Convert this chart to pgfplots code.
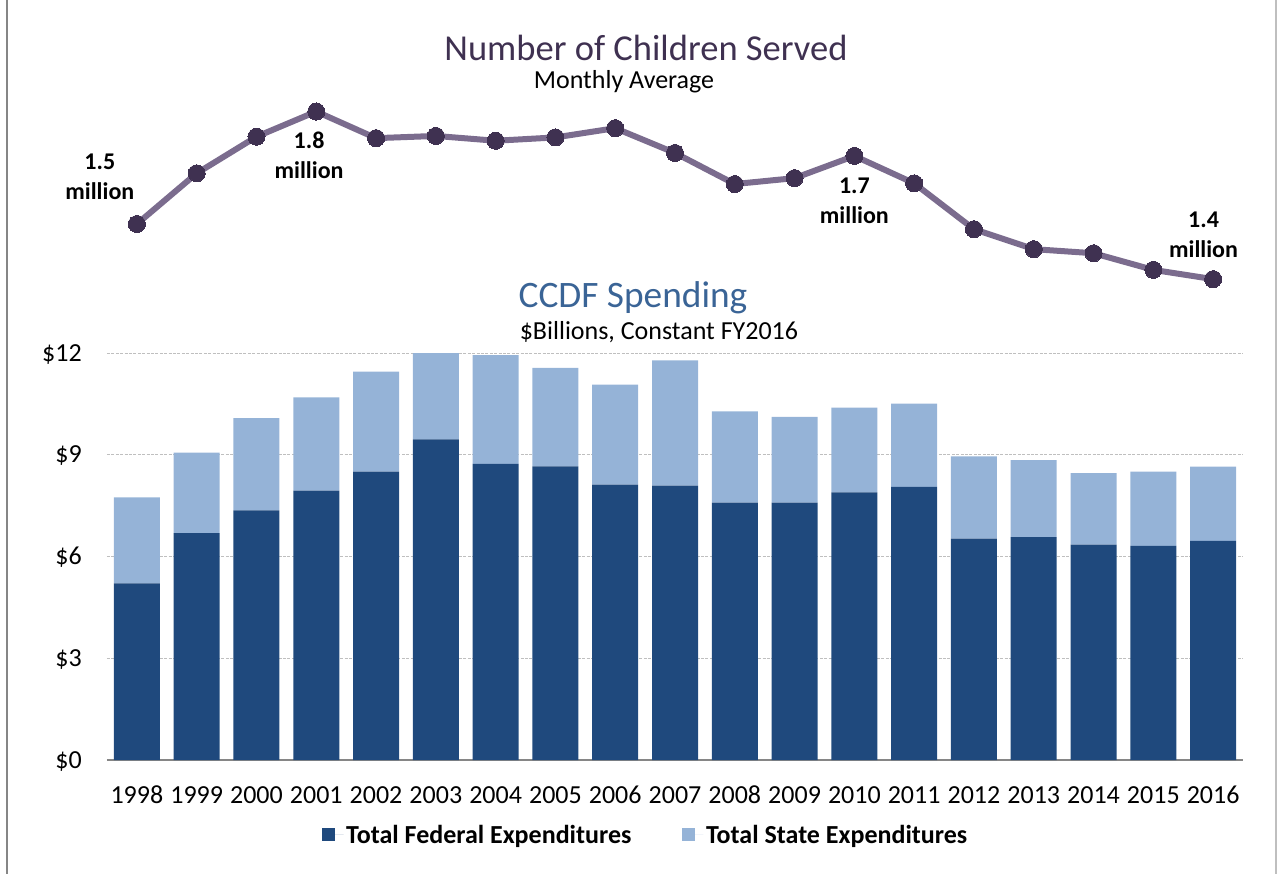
\documentclass[border=0pt]{standalone}
\usepackage{pgfplots}
\pgfplotsset{compat=1.18}
\usepackage{fontspec}
\setmainfont{Carlito}
\definecolor{fed}{HTML}{1F497D}
\definecolor{state}{HTML}{95B3D7}
\definecolor{linec}{HTML}{7B6C8E}
\definecolor{markc}{HTML}{3F3151}
\definecolor{titlep}{HTML}{3F3151}
\definecolor{titleb}{HTML}{3A6496}
\definecolor{gridc}{HTML}{BFBFBF}
\definecolor{basec}{HTML}{868686}
\begin{document}
\begin{tikzpicture}
\useasboundingbox (0,0) rectangle (960.75pt,-655.5pt);
% frame lines
\draw[color=basec, line width=1.5pt] (5.25pt,0pt) -- (5.25pt,-655.5pt);
\draw[color=gridc, line width=0.9pt] (957pt,0pt) -- (957pt,-655.5pt);
% titles
\node[anchor=base, text=titlep, inner sep=0pt, font=\fontsize{27.4}{32}\selectfont] at (0.75pt*646,-0.75pt*60.5) {Number of Children Served};
\node[anchor=base, inner sep=0pt, font=\fontsize{19.5}{23}\selectfont] at (0.75pt*624,-0.75pt*89) {Monthly Average};
\node[anchor=base, text=titleb, inner sep=0pt, font=\fontsize{28}{32}\selectfont] at (0.75pt*633,-0.75pt*307) {CCDF Spending};
\node[anchor=base, inner sep=0pt, font=\fontsize{19.5}{23}\selectfont] at (0.75pt*659,-0.75pt*339) {\$Billions, Constant FY2016};

% bar chart
\begin{axis}[
  at={(80.25pt,-570pt)}, anchor=south west,
  scale only axis, width=852pt, height=305.25pt,
  xmin=-0.5, xmax=18.5, ymin=0, ymax=12,
  ybar stacked, bar width=34.5pt,
  xtick={0,1,2,3,4,5,6,7,8,9,10,11,12,13,14,15,16,17,18},
  xticklabels={1998,1999,2000,2001,2002,2003,2004,2005,2006,2007,2008,2009,2010,2011,2012,2013,2014,2015,2016},
  ytick={0,3,6,9,12},
  yticklabels={\$0,\$3,\$6,\$9,\$12},
  major tick length=0pt,
  tick style={draw=none},
  ticklabel style={font=\fontsize{19.5}{23}\selectfont, inner sep=0pt},
  xticklabel style={anchor=base, yshift=-32.25pt},
  yticklabel style={anchor=base east, xshift=-18.75pt, yshift=-6pt},
  axis x line*=bottom, axis y line*=left,
  x axis line style={-, color=basec, line width=1.5pt},
  y axis line style={draw=none},
  ymajorgrids,
  major grid style={color=gridc, line width=0.75pt, dash pattern=on 2.2pt off 1.1pt},
  legend style={at={(0.4745,-0.184)}, anchor=center, draw=none, fill=none,
    legend columns=2, inner sep=0pt,
    font=\fontsize{19.5}{23}\selectfont\bfseries,
    /tikz/every even column/.append style={column sep=36pt}},
  legend image code/.code={\fill[#1] (0pt,-4.875pt) rectangle (9.75pt,4.875pt); \path (0pt,0pt) -- (16pt,0pt);},
]
\addplot[fill=fed, draw=none] coordinates {
(0,5.21) (1,6.69) (2,7.36) (3,7.94) (4,8.50) (5,9.45) (6,8.73) (7,8.66) (8,8.12) (9,8.09)
(10,7.59) (11,7.59) (12,7.89) (13,8.05) (14,6.53) (15,6.57) (16,6.35) (17,6.31) (18,6.46)};
\addlegendentry{Total Federal Expenditures}
\addplot[fill=state, draw=none] coordinates {
(0,2.53) (1,2.37) (2,2.72) (3,2.75) (4,2.95) (5,2.55) (6,3.21) (7,2.90) (8,2.95) (9,3.69)
(10,2.69) (11,2.53) (12,2.50) (13,2.46) (14,2.42) (15,2.27) (16,2.11) (17,2.19) (18,2.19)};
\addlegendentry{Total State Expenditures}
\end{axis}

% line chart
\begin{axis}[
  at={(80.25pt,-223.5pt)}, anchor=south west,
  scale only axis, width=852pt, height=152.625pt,
  xmin=-0.5, xmax=18.5, ymin=1.3, ymax=1.85,
  axis lines=none, ticks=none, clip=false,
]
\addplot[color=linec, line width=4.5pt, mark=*, mark size=6.4pt,
  mark options={fill=markc, draw=markc, line width=0pt}] coordinates {
(0,1.500) (1,1.637) (2,1.736) (3,1.804) (4,1.732) (5,1.738) (6,1.725) (7,1.734) (8,1.759) (9,1.692)
(10,1.608) (11,1.624) (12,1.684) (13,1.610) (14,1.486) (15,1.432) (16,1.421) (17,1.376) (18,1.351)};
\begin{scope}[every node/.style={align=center, inner sep=0pt, font=\fontsize{18}{22.5}\selectfont\bfseries}]
\node at (axis cs:-0.62,1.627) {1.5\\million};
\node at (axis cs:2.88,1.686) {1.8\\million};
\node at (axis cs:12.0,1.562) {1.7\\million};
\node at (axis cs:17.84,1.470) {1.4\\million};
\end{scope}
\end{axis}
\end{tikzpicture}
\end{document}
